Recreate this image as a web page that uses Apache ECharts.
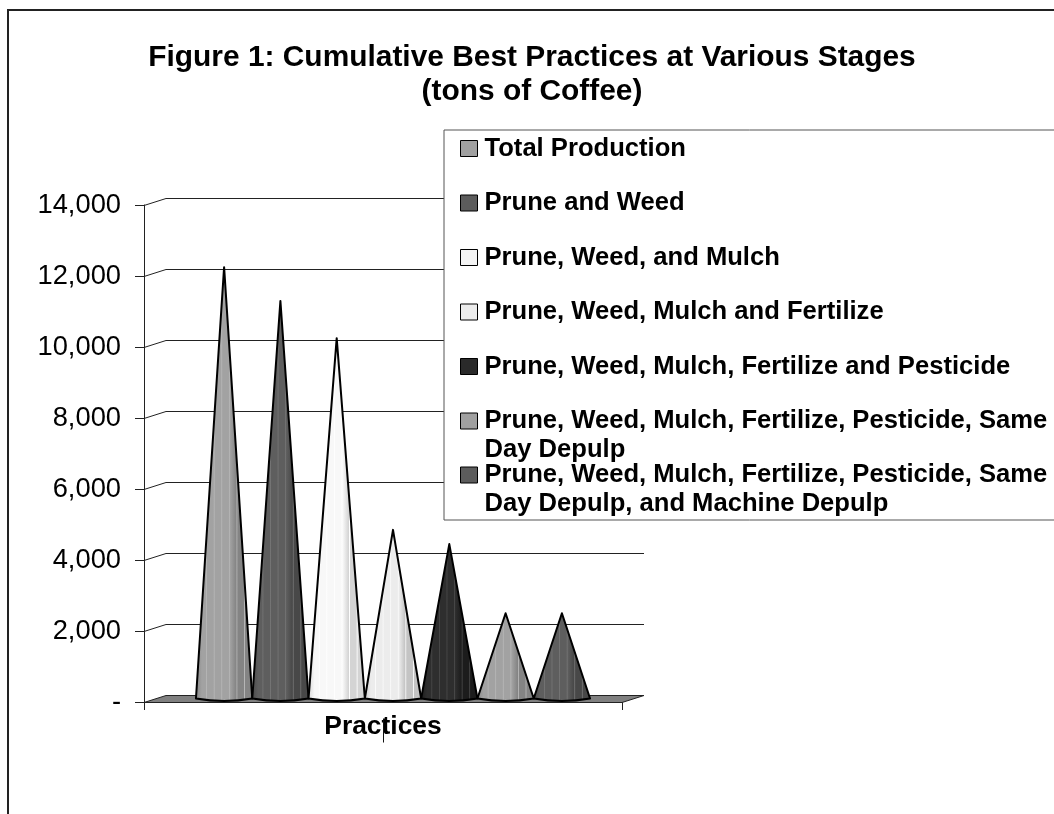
<!DOCTYPE html>
<html>
  <head>
    <meta charset="utf-8" />
    <title>Cumulative Best Practices</title>
    <script src="https://cdnjs.cloudflare.com/ajax/libs/echarts/6.0.0/echarts.min.js"></script>
    <style>
      html, body { margin: 0; padding: 0; background: #fff; }
      #main { width: 1054px; height: 814px; }
    </style>
  </head>
  <body>
    <div id="main"></div>
    <script type="text/javascript">
      var categories = ['Practices'];
      var seriesNames = [
        'Total Production',
        'Prune and Weed',
        'Prune, Weed, and Mulch',
        'Prune, Weed, Mulch and Fertilize',
        'Prune, Weed, Mulch, Fertilize and Pesticide',
        'Prune, Weed, Mulch, Fertilize, Pesticide, Same\nDay Depulp',
        'Prune, Weed, Mulch, Fertilize, Pesticide, Same\nDay Depulp, and Machine Depulp'
      ];
      var seriesValues = [12150, 11200, 10150, 4750, 4350, 2400, 2400];
      var swatchColors = ['#a0a0a0', '#5c5c5c', '#f4f4f4', '#ececec', '#2a2a2a', '#a0a0a0', '#5c5c5c'];
      var coneEdge = ['#848484', '#484848', '#d4d4d4', '#c4c4c4', '#1c1c1c', '#848484', '#484848'];
      var coneMid = ['#a2a2a2', '#5e5e5e', '#f8f8f8', '#ececec', '#2e2e2e', '#a2a2a2', '#5e5e5e'];
      var coneStreak = ['#b6b6b6', '#747474', '#ffffff', '#fafafa', '#484848', '#b6b6b6', '#747474'];
      var yTicks = [0, 2000, 4000, 6000, 8000, 10000, 12000, 14000];

      var FONT = '"Liberation Sans", Arial, sans-serif';
      var CONE_WIDTH = 56.3;

      var chartDom = document.getElementById('main');
      var myChart = echarts.init(chartDom);

      // body shading, dark on the right, with the thin pale streaks of the original
      function coneGradient(i) {
        var stops = [
          { offset: 0, color: coneEdge[i] },
          { offset: 0.12, color: coneMid[i] }
        ];
        [0.2, 0.33, 0.46, 0.59, 0.72, 0.85].forEach(function (at) {
          var base = at < 0.6 ? coneMid[i] : coneEdge[i];
          stops.push({ offset: at - 0.015, color: base });
          stops.push({ offset: at, color: coneStreak[i] });
          stops.push({ offset: at + 0.015, color: base });
        });
        stops.push({ offset: 1, color: coneEdge[i] });
        return new echarts.graphic.LinearGradient(0, 0, 1, 0, stops);
      }

      // gridlines on the back wall, their slanted connectors and the floor
      function renderWalls(params, api) {
        var value = api.value(0);
        var p = api.coord([0, value]);
        var left = params.coordSys.x;
        var right = left + params.coordSys.width;
        var y = Math.round(p[1]) + 0.5;
        var dx = 22, dy = -7;
        var children = [];
        if (value === 0) {
          children.push({
            type: 'polygon',
            shape: { points: [[left, y], [right, y], [right + dx, y + dy], [left + dx, y + dy]] },
            style: { fill: '#808080', stroke: '#222', lineWidth: 1 }
          });
          // stray long tick under the middle of the axis
          children.push({
            type: 'line',
            shape: { x1: 383.5, y1: y + 16, x2: 383.5, y2: y + 40 },
            style: { stroke: '#111', lineWidth: 1 }
          });
        } else {
          children.push({
            type: 'polyline',
            shape: { points: [[left, y], [left + dx, y + dy], [right + dx, y + dy]] },
            style: { fill: null, stroke: '#222', lineWidth: 1 }
          });
        }
        return { type: 'group', children: children };
      }

      function renderCone(i) {
        return function (params, api) {
          var tip = api.coord([0, api.value(1)]);
          var base = api.coord([0, 0]);
          var cx = tip[0] + (i - 3) * CONE_WIDTH;
          var half = CONE_WIDTH / 2;
          return {
            type: 'path',
            shape: {
              pathData: 'M' + cx + ' ' + tip[1] + 'L' + (cx + half) + ' ' + base[1] +
                'Q' + cx + ' ' + (base[1] + 5) + ' ' + (cx - half) + ' ' + base[1] + 'Z',
              layout: 'cover',
              x: cx - half,
              y: tip[1],
              width: half * 2,
              height: base[1] + 2.5 - tip[1]
            },
            style: { fill: coneGradient(i), stroke: '#000', lineWidth: 2, lineJoin: 'round' }
          };
        };
      }

      var series = [{
        type: 'custom',
        name: 'walls',
        xAxisIndex: 0,
        yAxisIndex: 0,
        renderItem: renderWalls,
        data: yTicks.map(function (v) { return [v]; }),
        encode: { y: 0 },
        silent: true,
        z: 1
      }];
      seriesNames.forEach(function (name, i) {
        series.push({
          type: 'custom',
          name: name,
          xAxisIndex: 1,
          yAxisIndex: 1,
          renderItem: renderCone(i),
          data: [[0, seriesValues[i]]],
          encode: { x: 0, y: 1 },
          itemStyle: { color: swatchColors[i] },
          z: 2
        });
      });

      function legendFor(items, top, gap) {
        return {
          orient: 'vertical',
          left: 460,
          top: top,
          padding: 0,
          itemGap: gap,
          itemWidth: 17,
          itemHeight: 16,
          icon: 'rect',
          selectedMode: false,
          data: items.map(function (name) {
            return { name: name, itemStyle: { color: swatchColors[seriesNames.indexOf(name)], borderColor: '#000', borderWidth: 1 } };
          }),
          // two line entries get a blank first line so the swatch sits on the first text line
          formatter: function (name) { return name.indexOf('\n') >= 0 ? '\n' + name : name; },
          textStyle: { fontFamily: FONT, fontWeight: 'bold', fontSize: 25.6, lineHeight: 29, color: '#000', padding: [0, 0, 0, 2] },
          z: 6
        };
      }

      var option = {
        animation: false,
        backgroundColor: '#fff',
        title: {
          text: 'Figure 1: Cumulative Best Practices at Various Stages\n(tons of Coffee)',
          left: 527,
          top: 36,
          textAlign: 'center',
          textStyle: { fontFamily: FONT, fontWeight: 'bold', fontSize: 29.9, lineHeight: 34, color: '#000' }
        },
        legend: [
          legendFor(seriesNames.slice(0, 5), 134, 25.5),
          legendFor([seriesNames[5]], 377.5, 0),
          legendFor([seriesNames[6]], 431.5, 0)
        ],
        grid: [
          { left: 144, top: 205, width: 478, height: 497 },
          { left: 154, top: 201.5, width: 478, height: 497 }
        ],
        xAxis: [
          {
            type: 'category',
            gridIndex: 0,
            data: categories,
            boundaryGap: true,
            axisLine: { show: true, lineStyle: { color: '#222', width: 1 } },
            axisTick: { show: true, length: 8, lineStyle: { color: '#222' } },
            axisLabel: { show: false },
            name: categories[0],
            nameLocation: 'middle',
            nameGap: 12,
            nameTextStyle: { fontFamily: FONT, fontWeight: 'bold', fontSize: 26.4, color: '#000', verticalAlign: 'top' }
          },
          { type: 'category', gridIndex: 1, data: categories, show: false }
        ],
        yAxis: [
          {
            type: 'value',
            gridIndex: 0,
            min: 0,
            max: 14000,
            interval: 2000,
            axisLine: { show: true, lineStyle: { color: '#222', width: 1 } },
            axisTick: { show: true, length: 9, lineStyle: { color: '#222' } },
            splitLine: { show: false },
            axisLabel: {
              margin: 23,
              fontFamily: FONT,
              fontSize: 27.3,
              color: '#000',
              padding: [5, 0, 0, 0],
              formatter: function (v) { return v === 0 ? '-' : v.toLocaleString('en-US'); }
            }
          },
          { type: 'value', gridIndex: 1, min: 0, max: 14000, interval: 2000, show: false }
        ],
        graphic: {
          elements: [
            {
              type: 'rect',
              silent: true,
              z: 3,
              shape: { x: 444, y: 130, width: 620, height: 390 },
              style: { fill: '#fff', stroke: '#555', lineWidth: 1 }
            },
            {
              type: 'polyline',
              silent: true,
              z: 3,
              shape: { points: [[8, 814], [8, 10], [1054, 10]] },
              style: { fill: null, stroke: '#222', lineWidth: 2 }
            }
          ]
        },
        series: series
      };

      myChart.setOption(option);
      window.addEventListener('resize', function () {
        myChart.resize();
      });
    </script>
  </body>
</html>
